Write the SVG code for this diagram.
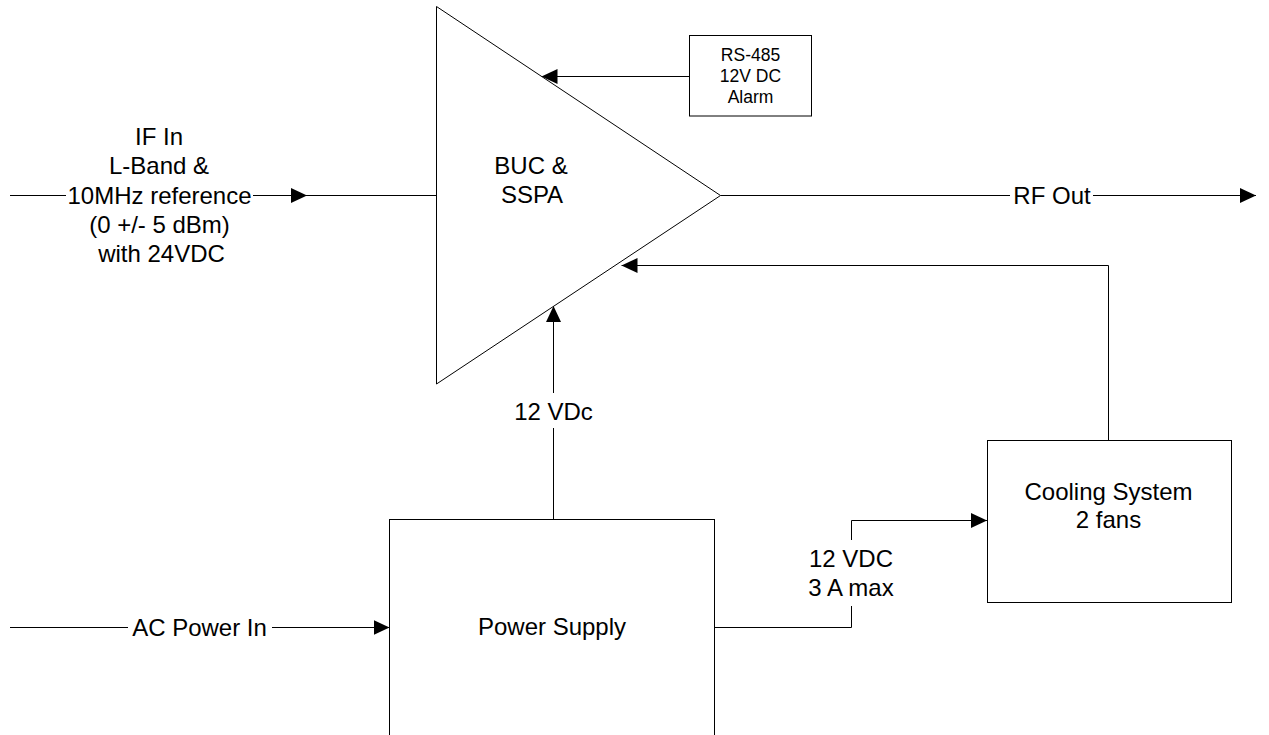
<svg xmlns="http://www.w3.org/2000/svg" width="1269" height="735" viewBox="0 0 1269 735">
  <style>
    .shape { fill: #ffffff; stroke: #000000; stroke-width: 1; }
    .wire { fill: none; stroke: #000000; stroke-width: 1; }
    .lbl { font-family: "Liberation Sans", Arial, sans-serif; font-size: 24px; fill: #000000; text-anchor: middle; }
    .small { font-size: 17.5px; }
  </style>
  <defs>
    <marker id="arrow" markerUnits="userSpaceOnUse" markerWidth="16" markerHeight="16" refX="16" refY="8" orient="auto">
      <path d="M0,0.5 L16,8 L0,15.5 z" fill="#000000"/>
    </marker>
  </defs>
  <rect width="1269" height="735" fill="#ffffff"/>

  <g id="connectors">
    <!-- IF In -->
    <path class="wire" d="M10,195.5 H66"/>
    <path class="wire" d="M253,195.5 H307" marker-end="url(#arrow)"/>
    <path class="wire" d="M307,195.5 H436.5"/>
    <!-- RF Out -->
    <path class="wire" d="M720.5,195.5 H1010"/>
    <path class="wire" d="M1093,195.5 H1256" marker-end="url(#arrow)"/>
    <!-- RS-485 to BUC -->
    <path class="wire" d="M689.5,76.5 H541.5" marker-end="url(#arrow)"/>
    <!-- Cooling to BUC -->
    <path class="wire" d="M1108.5,440 V265.5 H621.5" marker-end="url(#arrow)"/>
    <!-- 12 VDc power supply to BUC -->
    <path class="wire" d="M553.5,519.5 V428"/>
    <path class="wire" d="M553.5,393 V306" marker-end="url(#arrow)"/>
    <!-- 12 VDC to cooling -->
    <path class="wire" d="M714.5,627.5 H851.5 V606"/>
    <path class="wire" d="M851.5,540 V520.5 H987" marker-end="url(#arrow)"/>
    <!-- AC Power In -->
    <path class="wire" d="M10,627.5 H128"/>
    <path class="wire" d="M272,627.5 H389.5" marker-end="url(#arrow)"/>
  </g>

  <g id="buc-sspa">
    <polygon class="shape" points="436.5,6.5 720.5,195.5 436.5,384"/>
    <text class="lbl" x="531" y="174">BUC &amp;</text>
    <text class="lbl" x="532" y="203">SSPA</text>
  </g>

  <g id="rs485">
    <rect class="shape" x="689.5" y="35.5" width="122" height="80.5"/>
    <text class="lbl small" x="750.5" y="61">RS-485</text>
    <text class="lbl small" x="750.5" y="82">12V DC</text>
    <text class="lbl small" x="750.5" y="103">Alarm</text>
  </g>

  <g id="power-supply">
    <rect class="shape" x="389.5" y="519.5" width="325" height="230"/>
    <text class="lbl" x="552" y="635">Power Supply</text>
  </g>

  <g id="cooling-system">
    <rect class="shape" x="987.5" y="440.5" width="244" height="162"/>
    <text class="lbl" x="1108.5" y="500">Cooling System</text>
    <text class="lbl" x="1108.5" y="528">2 fans</text>
  </g>

  <g id="labels">
    <text class="lbl" x="159" y="145">IF In</text>
    <text class="lbl" x="159" y="174">L-Band &amp;</text>
    <text class="lbl" x="159.5" y="203.5">10MHz reference</text>
    <text class="lbl" x="159.5" y="232.5">(0 +/- 5 dBm)</text>
    <text class="lbl" x="161.5" y="261.5">with 24VDC</text>
    <text class="lbl" x="1052" y="203.5">RF Out</text>
    <text class="lbl" x="553.5" y="420">12 VDc</text>
    <text class="lbl" x="851" y="567">12 VDC</text>
    <text class="lbl" x="851" y="596">3 A max</text>
    <text class="lbl" x="199.5" y="636">AC Power In</text>
  </g>
</svg>
